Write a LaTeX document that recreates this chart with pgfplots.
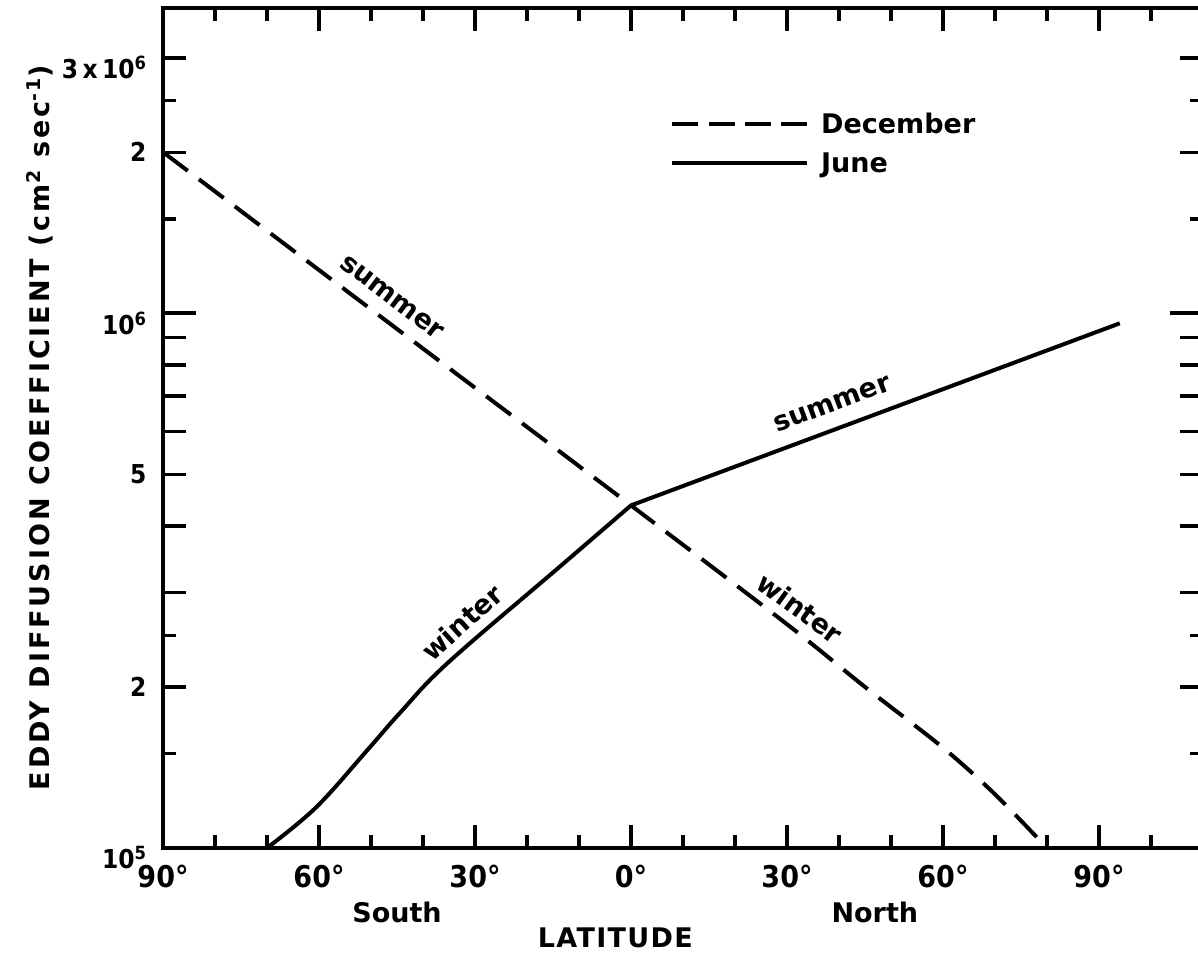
\documentclass[border=0pt]{standalone}
\usepackage{pgfplots}
\pgfplotsset{compat=1.18}
\usepackage{fontspec}
\setmainfont{DejaVu Sans}
\newfontfamily\numfont{DejaVu Sans Condensed}
\newcommand\lab{\bfseries\fontsize{27}{31}\selectfont}
\newcommand\xtf{\numfont\bfseries\fontsize{30}{34}\selectfont}
\newcommand\ytf{\numfont\bfseries\fontsize{26}{30}\selectfont}
\newcommand\dec[1]{\raisebox{-10pt}[\height][\depth]{#1}}
\begin{document}
\begin{tikzpicture}
\begin{axis}[
  scale only axis, width=1040pt, height=840pt,
  xmin=-90, xmax=110,
  ymode=log, ymin=1e5, ymax=3.72e6,
  clip=false,
  axis line style={line width=3.6pt},
  every tick/.style={line width=3.2pt, black},
  tick align=inside,
  major tick length=23pt, minor tick length=13pt,
  xtick={-90,-60,-30,0,30,60,90},
  xticklabels={90°,60°,30°,0°,30°,60°,90°},
  minor xtick={-80,-70,-50,-40,-20,-10,10,20,40,50,70,80,100},
  xticklabel style={font=\xtf, yshift=-14pt},
  ytick={1e5,2e5,3e5,4e5,5e5,6e5,7e5,8e5,9e5,1e6,2e6,3e6},
  yticklabels={\dec{10\textsuperscript{5}},2,,,5,,,,,\dec{10\textsuperscript{6}},2,\dec{3\,x\,10\textsuperscript{6}}},
  minor ytick={1.5e5,2.5e5,1.5e6,2.5e6},
  extra y ticks={1e6}, extra y tick labels={},
  extra y tick style={major tick length=33pt},
  yticklabel style={font=\ytf, xshift=-13pt},
  legend style={draw=none, fill=none, font=\lab, at={(0.4875,0.878)}, anchor=north west,
    row sep=14pt, inner sep=0pt},
  legend cell align=left,
]
\addplot[black, line width=4pt, dash pattern=on 31pt off 14pt, smooth, tension=0.5,
  legend image code/.code={\draw[black, line width=4pt, dash pattern=on 26pt off 10.3pt] (0pt,0pt) -- (135pt,0pt);}]
  coordinates {(-90,2.0e6) (-45,9.34e5) (0,4.37e5) (30,2.62e5) (45,2.0e5) (60,1.54e5) (70,1.26e5) (80,1.0e5)};
\addlegendentry{\hspace{10pt}December}
\addplot[black, line width=4pt, smooth, tension=0.6,
  legend image code/.code={\draw[black, line width=4pt] (0pt,0pt) -- (135pt,0pt);}]
  coordinates {(-70,1.0e5) (-60.6,1.19e5) (-50.8,1.52e5) (-44.4,1.79e5) (-35.2,2.22e5) (-13.8,3.35e5) (0,4.37e5)};
\addlegendentry{\hspace{10pt}June}
\addplot[black, line width=4pt, forget plot]
  coordinates {(0,4.37e5) (94,9.57e5)};
\node[font=\lab, rotate=-37] at (axis cs:-46,1.07e6) {summer};
\node[font=\lab, rotate=42] at (axis cs:-32.5,2.64e5) {winter};
\node[font=\lab, rotate=20.5] at (axis cs:38.7,6.76e5) {summer};
\node[font=\lab, rotate=-36] at (axis cs:32.5,2.81e5) {winter};
\node[font=\lab] at (axis cs:-45,1e5) [yshift=-64pt] {South};
\node[font=\lab] at (axis cs:46.9,1e5) [yshift=-64pt] {North};
\node[font=\lab] at (axis cs:-3,1e5) [yshift=-90pt] {\addfontfeatures{LetterSpace=5}LATITUDE};
\node[font=\lab, rotate=90] at ([xshift=-123pt]rel axis cs:0,0.5) {\addfontfeatures{LetterSpace=11}EDDY DIFFUSION COEFFICIENT (cm\textsuperscript{2} sec\textsuperscript{-1})};
\end{axis}
\pgfresetboundingbox
\useasboundingbox (-163pt,-107pt) rectangle (1035pt,848pt);
\end{tikzpicture}
\end{document}
